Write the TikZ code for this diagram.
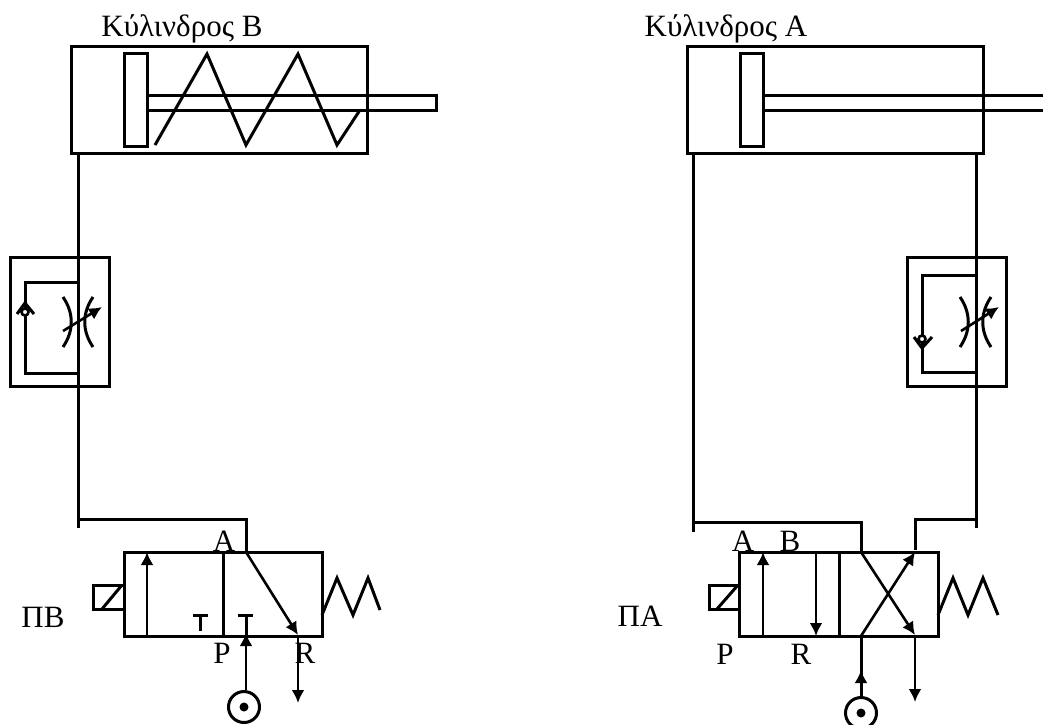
\documentclass[tikz,border=0pt]{standalone}
\usepackage{fontspec}
\setmainfont{Liberation Serif}
\usetikzlibrary{arrows.meta}
\tikzset{
	pipe/.style={line width=3pt},
	flow/.style={line width=2.6pt, -{Latex[length=13pt,width=13pt]}},
	body/.style={draw, line width=3pt, fill=none, inner sep=0pt, outer sep=0pt},
	lbl/.style={font=\fontsize{31}{36}\selectfont, inner sep=0pt},
	port/.style={circle, draw, line width=3pt, fill=white, inner sep=0pt, minimum size=31pt},
	dot/.style={circle, fill=black, inner sep=0pt, minimum size=9pt},
	ball/.style={circle, draw, line width=2.6pt, fill=white, inner sep=0pt, minimum size=7pt}
}
\begin{document}
\begin{tikzpicture}[x=1pt, y=-1pt, line join=miter]
	\clip (0,0) rectangle (1043,724);

	% Cylinder B
	\node[body, minimum width=296pt, minimum height=107pt] (cylB) at (219,99.5) {};
	\node[body, minimum width=23pt, minimum height=93pt] (pistB) at (135.5,99.5) {};
	\node[body, minimum width=289pt, minimum height=15pt] (rodB) at (291.5,102.5) {};
	\draw[pipe] (155,145) -- (207,54) -- (246,145) -- (298,54) -- (337,145) -- (360,110);
	\node[lbl] (titleB) at (182,29) {Κύλινδρος Β};

	% Cylinder A
	\node[body, minimum width=296pt, minimum height=107pt] (cylA) at (835,99.5) {};
	\node[body, minimum width=23pt, minimum height=93pt] (pistA) at (751.5,99.5) {};
	\coordinate (rodA1) at (763,95);
	\coordinate (rodA2) at (763,110);
	\coordinate (rodA3) at (1045,95);
	\coordinate (rodA4) at (1045,110);
	\draw[pipe] (rodA1) -- (rodA3);
	\draw[pipe] (rodA2) -- (rodA4);
	\node[lbl] (titleA) at (726,29) {Κύλινδρος Α};

	% Throttle B
	\node[body, minimum width=99pt, minimum height=129pt] (thrB) at (59.5,321.5) {};
	\coordinate (b1) at (78,153);
	\coordinate (b2) at (78,528);
	\coordinate (b3) at (78,519);
	\coordinate (b4) at (246,519);
	\coordinate (b5) at (246,552);
	\coordinate (b6) at (78,282);
	\coordinate (b7) at (25,282);
	\coordinate (b8) at (25,373);
	\coordinate (b9) at (78,373);
	\draw[pipe] (b1) -- (b2);
	\draw[pipe] (b3) -- (b4) -- (b5);
	\draw[pipe] (b6) -- (b7) -- (b8) -- (b9);
	\node[ball] (ballB) at (25,312) {};
	\draw[pipe] (17,314) -- (25,303) -- (34,314);
	\draw[pipe] (63,297) .. controls (74,313) and (74,331) .. (63,347);
	\draw[pipe] (93,297) .. controls (82,313) and (82,331) .. (93,347);
	\draw[flow] (63,331) -- (102,307);

	% Throttle A
	\node[body, minimum width=99pt, minimum height=129pt] (thrA) at (956.5,321.5) {};
	\coordinate (a1) at (693,153);
	\coordinate (a2) at (693,532);
	\coordinate (a3) at (693,522);
	\coordinate (a4) at (861,522);
	\coordinate (a5) at (861,552);
	\coordinate (a6) at (976,153);
	\coordinate (a7) at (976,528);
	\coordinate (a8) at (976,519);
	\coordinate (a9) at (915,519);
	\coordinate (a10) at (915,550);
	\coordinate (a11) at (976,275);
	\coordinate (a12) at (922,275);
	\coordinate (a13) at (922,372);
	\coordinate (a14) at (976,372);
	\draw[pipe] (a1) -- (a2);
	\draw[pipe] (a3) -- (a4) -- (a5);
	\draw[pipe] (a6) -- (a7);
	\draw[pipe] (a8) -- (a9) -- (a10);
	\draw[pipe] (a11) -- (a12) -- (a13) -- (a14);
	\node[ball] (ballA) at (922,339) {};
	\draw[pipe] (914,337) -- (922,348) -- (932,337);
	\draw[pipe] (960,297) .. controls (971,313) and (971,331) .. (960,347);
	\draw[pipe] (991,297) .. controls (980,313) and (980,331) .. (991,347);
	\draw[flow] (961,331) -- (999,307);

	% Valve B
	\node[body, minimum width=198pt, minimum height=84pt] (valveB) at (223,594) {};
	\draw[pipe] (valveB.north) -- (valveB.south);
	\node[body, minimum width=31pt, minimum height=24pt] (solB) at (108.5,597) {};
	\draw[pipe] (102,609) -- (122,585);
	\coordinate (vb1) at (147,636);
	\coordinate (vb2) at (147,552);
	\draw[flow] (vb1) -- (vb2);
	\draw[pipe] (193,615) -- (208,615);
	\draw[pipe] (200,615) -- (200,631);
	\draw[pipe] (238,615) -- (253,615);
	\coordinate (vb3) at (246,552);
	\coordinate (vb4) at (298,635);
	\coordinate (vb5) at (298,703);
	\coordinate (vb6) at (246,615);
	\draw[flow] (vb3) -- (vb4);
	\draw[flow] (vb4) -- (vb5);
	\node[port] (srcB) at (244,707) {};
	\node[dot] (srcBd) at (244,707) {};
	\draw[flow] (srcB.north -| vb6) -- (246,633);
	\draw[pipe] (246,640) -- (vb6);
	\draw[pipe] (322,615) -- (337,578) -- (353,615) -- (368,578) -- (380,610);
	\node[lbl] (vbA) at (224,541) {A};
	\node[lbl] (vbP) at (222,653) {P};
	\node[lbl] (vbR) at (305,653) {R};
	\node[lbl] (vbN) at (43,617) {ΠΒ};

	% Valve A
	\node[body, minimum width=199pt, minimum height=84pt] (valveA) at (838.5,594) {};
	\draw[pipe] (839,552) -- (839,636);
	\node[body, minimum width=30pt, minimum height=24pt] (solA) at (724,597) {};
	\draw[pipe] (717,609) -- (738,585);
	\coordinate (va1) at (763,636);
	\coordinate (va2) at (763,552);
	\coordinate (va3) at (816,552);
	\coordinate (va4) at (816,636);
	\coordinate (va5) at (861,552);
	\coordinate (va6) at (915,635);
	\coordinate (va7) at (861,636);
	\coordinate (va8) at (915,552);
	\coordinate (va9) at (915,702);
	\draw[flow] (va1) -- (va2);
	\draw[flow] (va3) -- (va4);
	\draw[flow] (va5) -- (va6);
	\draw[flow] (va7) -- (va8);
	\draw[flow] (va6) -- (va9);
	\node[port] (srcA) at (861,713) {};
	\node[dot] (srcAd) at (861,713) {};
	\draw[flow, line width=3pt] (srcA.north) -- (861,670);
	\draw[pipe] (861,678) -- (va7);
	\draw[pipe] (938,615) -- (953,578) -- (968,615) -- (983,578) -- (998,615);
	\node[lbl] (vaA) at (743,541) {A};
	\node[lbl] (vaB) at (790,541) {B};
	\node[lbl] (vaP) at (725,654) {P};
	\node[lbl] (vaR) at (801,654) {R};
	\node[lbl] (vaN) at (640,616) {ΠΑ};

\end{tikzpicture}
\end{document}
